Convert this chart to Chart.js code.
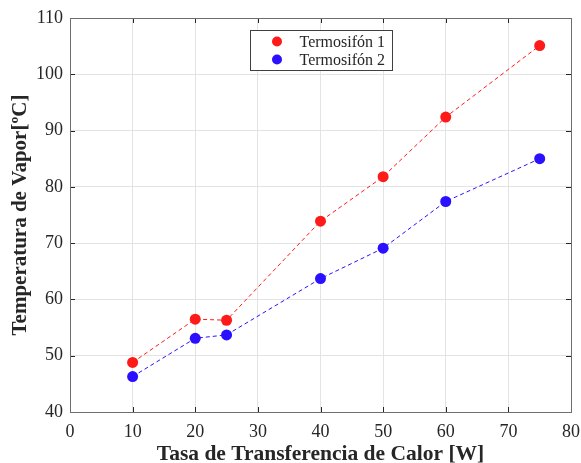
<!DOCTYPE html>
<html>
<head>
<meta charset="utf-8">
<script src="https://cdn.jsdelivr.net/npm/chart.js@4.4.1/dist/chart.umd.min.js"></script>
<style>
  html, body { margin: 0; padding: 0; background: #fff; }
  #wrap { width: 581px; height: 463px; }
</style>
</head>
<body>
<div id="wrap"><canvas id="myChart"></canvas></div>
<script>
// potencia aplicada [W]
const potencia = [10, 20, 25, 40, 50, 60, 75];
// temperatura de vapor [ºC]
const termo1 = [48.8, 56.5, 56.3, 73.9, 81.8, 92.4, 105.1];
const termo2 = [46.3, 53.1, 53.7, 63.7, 69.1, 77.4, 85.0];
const seriesNames = ['Termosifón 1', 'Termosifón 2'];
const xTicks = [0, 10, 20, 30, 40, 50, 60, 70, 80];
const yTicks = [40, 50, 60, 70, 80, 90, 100, 110];

const serif = "'Liberation Serif', 'Times New Roman', serif";
const axisColor = '#262626';

function pts(ys) {
  return potencia.map((x, i) => ({x: x, y: ys[i]}));
}

// caja y marcas hacia adentro, estilo matlab
const boxPlugin = {
  id: 'matlabBox',
  afterDatasetsDraw: (chart) => {
    const {ctx, chartArea: a, scales} = chart;
    ctx.save();
    ctx.strokeStyle = axisColor;
    ctx.lineWidth = 1;
    ctx.beginPath();
    xTicks.forEach(v => {
      const px = Math.round(scales.x.getPixelForValue(v)) + 0.5;
      ctx.moveTo(px, a.bottom); ctx.lineTo(px, a.bottom - 5);
      ctx.moveTo(px, a.top); ctx.lineTo(px, a.top + 5);
    });
    yTicks.forEach(v => {
      const py = Math.round(scales.y.getPixelForValue(v)) + 0.5;
      ctx.moveTo(a.left, py); ctx.lineTo(a.left + 5, py);
      ctx.moveTo(a.right, py); ctx.lineTo(a.right - 5, py);
    });
    ctx.stroke();
    ctx.strokeStyle = '#6e6e6e';
    ctx.strokeRect(Math.round(a.left) + 0.5, Math.round(a.top) + 0.5,
      Math.round(a.right - a.left), Math.round(a.bottom - a.top));
    ctx.restore();
  }
};

// leyenda dentro del area
const legendPlugin = {
  id: 'boxLegend',
  afterDraw: (chart) => {
    const {ctx} = chart;
    const x0 = 250.5, y0 = 30.5, w = 142, h = 40;
    ctx.save();
    ctx.fillStyle = '#fff';
    ctx.fillRect(x0, y0, w, h);
    ctx.strokeStyle = '#404040';
    ctx.lineWidth = 1;
    ctx.strokeRect(x0, y0, w, h);
    ctx.font = '16px ' + serif;
    ctx.textAlign = 'right';
    ctx.textBaseline = 'middle';
    chart.data.datasets.forEach((ds, i) => {
      const cy = y0 + 11 + i * 18;
      ctx.fillStyle = ds.backgroundColor;
      ctx.beginPath();
      ctx.arc(277, cy, 5, 0, Math.PI * 2);
      ctx.fill();
      ctx.fillStyle = axisColor;
      ctx.fillText(ds.label, 385, cy + 1);
    });
    ctx.restore();
  }
};

const colors = ['#ff1a1a', '#2a10ff'];

const data = {
  datasets: [termo1, termo2].map((ys, i) => ({
    label: seriesNames[i],
    data: pts(ys),
    showLine: true,
    borderColor: colors[i],
    backgroundColor: colors[i],
    borderWidth: 1,
    borderDash: [4, 3],
    pointRadius: 5.5,
    pointHoverRadius: 5.5,
    pointBorderWidth: 0
  }))
};

const config = {
  type: 'scatter',
  data: data,
  options: {
    responsive: true,
    maintainAspectRatio: false,
    animation: false,
    layout: { padding: { top: 18, right: 10, left: 0, bottom: 0 } },
    plugins: {
      legend: { display: false },
      tooltip: { enabled: false }
    },
    scales: {
      x: {
        type: 'linear',
        min: 0, max: 80,
        afterBuildTicks: (s) => { s.ticks = xTicks.map(v => ({value: v})); },
        afterFit: (s) => { s.height = 51; s.paddingRight = 0; s.paddingLeft = 0; },
        grid: { color: '#e3e3e3', drawTicks: false },
        border: { display: false },
        ticks: { color: axisColor, padding: 9, font: { family: serif, size: 18 }, maxRotation: 0 },
        title: {
          display: true,
          text: 'Tasa de Transferencia de Calor [W]',
          color: axisColor,
          font: { family: serif, size: 21.5, weight: 'bold', lineHeight: 0.8 },
          padding: { top: 0, bottom: 0 }
        }
      },
      y: {
        type: 'linear',
        min: 40, max: 110,
        afterBuildTicks: (s) => { s.ticks = yTicks.map(v => ({value: v})); },
        afterFit: (s) => { s.width = 70; s.paddingTop = 0; s.paddingBottom = 0; },
        grid: { color: '#e3e3e3', drawTicks: false },
        border: { display: false },
        ticks: { color: axisColor, padding: 7, font: { family: serif, size: 18 } },
        title: {
          display: true,
          text: 'Temperatura de Vapor[ºC]',
          color: axisColor,
          font: { family: serif, size: 21, weight: 'bold' },
          padding: { top: 8, bottom: 0 }
        }
      }
    }
  },
  plugins: [boxPlugin, legendPlugin]
};

new Chart(document.getElementById('myChart'), config);
</script>
</body>
</html>
